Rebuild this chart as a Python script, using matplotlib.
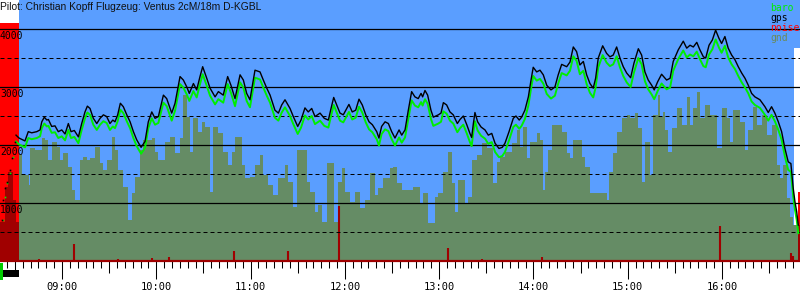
import matplotlib.pyplot as plt
import matplotlib.transforms as mtransforms
from matplotlib.patches import Rectangle
from matplotlib.ticker import MultipleLocator, FuncFormatter

# times in minutes after 08:00, altitudes in ft
t_start, t_end = 20.5, 529.7
t_takeoff, t_landing, t_stop = 32.6, 525.8, 528.4

gps_t = [30.7, 32.6, 36.4, 38.5, 40.7, 43.9, 46.0, 47.1, 48.7, 50.3, 51.3, 53.4, 55.5, 57.6, 59.8,
         61.9, 64.0, 65.7, 67.8, 70.4, 72.5, 74.6, 76.1, 77.8, 79.9, 82.1, 84.2, 86.3, 88.4, 90.5,
         92.3, 93.7, 95.4, 97.1, 99.0, 101.2, 103.3, 105.4, 107.5, 110.3, 112.8, 114.9, 117.1, 119.2, 121.3,
         124.5, 126.6, 129.8, 131.9, 135.1, 137.2, 139.4, 141.0, 143.6, 145.7, 147.8, 149.5, 152.1, 154.2, 157.4,
         159.5, 162.6, 165.4, 167.5, 170.1, 173.3, 175.4, 177.5, 179.6, 182.8, 186.0, 188.1, 190.3, 192.4, 195.5,
         197.7, 199.8, 201.9, 205.1, 207.2, 210.0, 212.1, 214.6, 216.7, 218.9, 221.0, 224.2, 226.9, 229.5, 231.2,
         232.9, 234.8, 236.9, 239.0, 241.2, 242.6, 244.7, 246.9, 249.0, 251.1, 253.3, 255.4, 257.5, 260.3, 261.7,
         263.4, 265.6, 267.7, 269.8, 271.9, 274.5, 276.2, 278.3, 280.4, 282.5, 284.6, 286.7, 288.5, 289.5, 291.0,
         292.7, 294.8, 296.3, 299.5, 301.2, 302.7, 304.8, 306.9, 309.0, 311.6, 313.3, 315.4, 317.6, 319.6, 320.7,
         321.8, 322.8, 324.5, 326.7, 329.2, 331.3, 333.5, 335.6, 338.1, 340.2, 341.9, 344.5, 347.2, 348.9, 351.0,
         352.5, 354.6, 356.8, 358.5, 359.9, 362.1, 364.2, 366.3, 368.5, 371.2, 373.7, 375.8, 378.0, 381.2, 383.3,
         385.4, 387.5, 389.6, 391.8, 393.9, 396.0, 398.1, 399.6, 401.3, 404.1, 406.6, 408.7, 410.8, 413.0, 415.1,
         417.2, 419.4, 421.9, 424.0, 426.8, 428.9, 431.0, 433.1, 435.3, 436.9, 439.1, 441.6, 444.8, 447.0, 449.0,
         452.2, 455.4, 457.6, 459.7, 461.8, 464.0, 466.0, 468.2, 469.7, 471.8, 473.9, 476.0, 478.1, 479.8, 481.9,
         484.0, 486.2, 488.3, 490.4, 492.6, 494.7, 496.8, 498.9, 501.0, 504.2, 507.4, 509.5, 511.6, 513.7, 515.9,
         518.0, 520.1, 522.2, 523.9, 525.4, 526.5, 527.6, 528.6]

gps_alt = [2170, 2120, 2070, 2230, 2210, 2230, 2260, 2400, 2480, 2430, 2440, 2320, 2330, 2230, 2260,
           2190, 2370, 2230, 2250, 2140, 2370, 2570, 2670, 2630, 2460, 2370, 2460, 2520, 2490, 2370,
           2430, 2400, 2520, 2720, 2660, 2520, 2400, 2230, 2090, 1960, 2060, 2400, 2570, 2460, 2490,
           2860, 2800, 2550, 2720, 3180, 3120, 3000, 2890, 3060, 2950, 3180, 3350, 3150, 2980, 2830,
           2920, 2860, 3180, 3030, 2800, 3210, 3120, 2890, 2780, 3290, 3260, 3120, 2980, 2860, 2600,
           2550, 2690, 2780, 2630, 2490, 2320, 2430, 2640, 2570, 2630, 2490, 2550, 2460, 2430, 2630,
           2820, 2690, 2550, 2520, 2630, 2700, 2570, 2600, 2790, 2690, 2520, 2400, 2350, 2230, 2120,
           2320, 2400, 2370, 2230, 2120, 2260, 2170, 2260, 2600, 2920, 2830, 2800, 2890, 2830, 2940,
           2860, 2600, 2480, 2520, 2550, 2730, 2690, 2570, 2520, 2370, 2440, 2500, 2350, 2200, 2130,
           2370, 2560, 2400, 2310, 2260, 2170, 2200, 2030, 1940, 1960, 2030, 2230, 2460, 2500, 2430,
           2480, 2600, 2830, 3120, 3340, 3260, 3290, 3210, 3030, 2950, 3000, 3210, 3390, 3350, 3430,
           3690, 3610, 3380, 3440, 3210, 3060, 2980, 3150, 3500, 3710, 3580, 3520, 3550, 3690, 3500,
           3350, 3240, 3160, 3410, 3660, 3550, 3260, 3120, 3030, 2950, 3090, 3220, 3120, 3150, 3440,
           3640, 3790, 3670, 3720, 3690, 3770, 3640, 3520, 3500, 3720, 3810, 3980, 3840, 3750, 3870,
           3670, 3550, 3470, 3350, 3240, 3150, 3030, 2890, 2830, 2780, 2660, 2560, 2660, 2550, 2400,
           2230, 1940, 1710, 1680, 1250, 1020, 850, 620]

baro_alt = [2060, 2010, 1960, 2120, 2100, 2120, 2150, 2290, 2370, 2320, 2330, 2210, 2220, 2120, 2150,
            2080, 2260, 2120, 2140, 2030, 2260, 2460, 2560, 2520, 2350, 2260, 2350, 2410, 2380, 2260,
            2320, 2290, 2410, 2610, 2550, 2410, 2290, 2120, 1980, 1850, 1950, 2290, 2460, 2350, 2380,
            2730, 2670, 2420, 2590, 3050, 2990, 2870, 2760, 2930, 2820, 3050, 3220, 3020, 2850, 2700,
            2790, 2730, 3050, 2900, 2670, 3080, 2990, 2760, 2650, 3160, 3130, 2990, 2850, 2730, 2470,
            2420, 2560, 2650, 2500, 2360, 2190, 2300, 2510, 2440, 2500, 2360, 2420, 2330, 2300, 2500,
            2690, 2560, 2420, 2390, 2500, 2570, 2440, 2470, 2660, 2560, 2390, 2270, 2220, 2100, 1990,
            2190, 2270, 2240, 2100, 1990, 2130, 2040, 2130, 2450, 2770, 2680, 2650, 2740, 2680, 2790,
            2710, 2450, 2330, 2370, 2400, 2580, 2540, 2420, 2370, 2220, 2290, 2350, 2200, 2050, 1980,
            2220, 2410, 2250, 2160, 2110, 2020, 2050, 1880, 1790, 1810, 1880, 2080, 2310, 2350, 2280,
            2330, 2450, 2680, 2970, 3190, 3110, 3140, 3060, 2880, 2800, 2850, 3060, 3240, 3200, 3280,
            3530, 3450, 3220, 3280, 3050, 2900, 2820, 2990, 3340, 3550, 3420, 3360, 3390, 3530, 3340,
            3190, 3080, 3000, 3250, 3500, 3390, 3100, 2960, 2870, 2790, 2930, 3060, 2960, 2990, 3280,
            3480, 3630, 3510, 3560, 3530, 3610, 3480, 3360, 3340, 3560, 3650, 3820, 3680, 3590, 3710,
            3510, 3390, 3310, 3190, 3080, 2990, 2890, 2750, 2690, 2640, 2520, 2420, 2520, 2410, 2260,
            2090, 1800, 1570, 1540, 1110, 880, 710, 480]

tow_t = [21.6, 22.6, 23.7, 24.8, 26.9, 28.0, 30.1]
tow_gps = [710, 1050, 1260, 1360, 1570, 1780, 2050]
tow_baro_t = [22.3, 23.5, 25.2, 26.9, 28.6]
tow_baro = [710, 1100, 1340, 1520, 1790]

gnd_t = [32.6, 34.5, 38.7, 39.6, 42.8, 47.3, 49.2, 51.1, 53.6, 56.8, 58.7, 60.6, 63.8, 66.4, 68.3,
         71.5, 73.4, 75.9, 77.8, 81.0, 84.2, 86.1, 88.6, 91.8, 93.7, 95.6, 98.8, 102.0, 104.5, 106.5,
         109.6, 111.5, 117.3, 119.2, 121.1, 125.5, 128.7, 131.9, 135.1, 137.0, 139.5, 141.5, 143.4, 146.6, 149.1,
         151.0, 154.2, 156.1, 159.3, 162.5, 165.6, 168.2, 170.1, 174.6, 176.5, 179.6, 182.8, 186.0, 187.9, 191.1,
         194.3, 197.5, 201.9, 203.8, 207.0, 209.5, 215.9, 217.8, 221.0, 222.9, 225.5, 228.6, 233.1, 235.6, 238.2,
         240.1, 243.3, 246.5, 249.6, 252.8, 256.0, 259.2, 261.1, 264.3, 268.7, 270.6, 273.2, 276.4, 283.4, 287.8,
         289.7, 292.9, 297.4, 299.3, 302.5, 305.6, 308.2, 310.1, 312.0, 316.5, 318.4, 320.9, 324.1, 327.3, 330.5,
         334.3, 336.8, 338.7, 341.9, 346.4, 349.6, 351.5, 353.4, 355.9, 357.8, 362.3, 364.2, 366.1, 367.4, 369.3,
         371.8, 378.2, 381.4, 383.3, 385.2, 391.0, 392.8, 396.0, 406.8, 408.1, 410.7, 413.2, 416.4, 419.6, 421.5,
         424.7, 426.6, 429.1, 431.0, 434.2, 436.1, 439.3, 440.6, 442.5, 443.7, 445.7, 448.2, 451.4, 454.6, 457.8,
         459.7, 461.6, 464.1, 466.0, 469.2, 472.4, 476.9, 480.0, 483.2, 485.1, 487.0, 491.5, 494.7, 496.6, 499.8,
         502.3, 505.5, 508.7, 511.9, 515.0, 517.0, 518.8, 521.4, 523.3, 525.2, 528.4]

gnd_alt = [1830, 1480, 1310, 1950, 1910, 2120, 2090, 1740, 2050, 1970, 1740, 1860, 1620, 1220, 1050,
           1740, 1790, 1740, 1780, 1970, 1690, 1570, 1740, 2140, 1910, 1570, 1280, 710, 1170, 1450,
           1910, 2090, 2120, 1880, 1740, 2050, 2140, 1860, 2120, 2860, 2480, 1880, 2470, 2220, 2400,
           2310, 1190, 2310, 2210, 1880, 1660, 1880, 2140, 1660, 1430, 1450, 1660, 1830, 1480, 1310,
           1140, 1430, 1660, 1360, 930, 1910, 1360, 1190, 850, 970, 670, 1690, 670, 1360, 1600,
           1190, 1020, 1190, 910, 1050, 1520, 1140, 1260, 1430, 1600, 1620, 1340, 1220, 1280, 1000,
           1170, 660, 1100, 1170, 1530, 1880, 1340, 850, 1400, 1000, 1100, 1740, 1830, 2030, 1950,
           1340, 1710, 1790, 1880, 2030, 2260, 1970, 2310, 1780, 2050, 2210, 2090, 1220, 1530, 1910,
           2350, 2220, 1860, 1780, 2090, 1790, 1620, 1170, 1050, 1530, 1860, 2220, 2470, 2520, 2470,
           2550, 2290, 1360, 2050, 1480, 2520, 2860, 2480, 2570, 2260, 1880, 2290, 2640, 2350, 2830,
           2350, 2640, 2910, 2470, 2690, 2520, 1950, 2640, 2470, 2050, 2600, 2400, 1910, 2260, 2660,
           2350, 2520, 2170, 2350, 1660, 1430, 1660, 1090, 760, 620, 620]

noise_t = [45.2, 67.6, 95.6, 117.3, 128.1, 169.5, 203.8, 236.3, 305.6, 327.3, 365.5, 478.7, 523.9, 525.2]
noise_lvl = [35, 290, 35, 50, 70, 170, 170, 950, 220, 35, 70, 600, 140, 90]

pre_t = [20.5, 23.7, 25.6, 28.8, 30.7, 32.6]
pre_noise = [670, 1280, 1530, 1050, 670, 670]

hours = ["09:00", "10:00", "11:00", "12:00", "13:00", "14:00", "15:00", "16:00"]

title = "Pilot: Christian Kopff Flugzeug: Ventus 2cM/18m D-KGBL"
legend_items = [("baro", "#00ee00"), ("gps", "black"), ("noise", "#ff0000"), ("gnd", "#6a8a5a")]

BLUE = "#5a9eff"
GND = "#658c65"
RED = "#ff0000"
DARKRED = "#a00000"
GREEN = "#00ee00"

fig = plt.figure(figsize=(8, 3), dpi=100)
ax = fig.add_axes([0, 39 / 300, 1, 261 / 300])
ax.set_xlim(t_start, t_end)
ax.set_ylim(0, 4500)
ax.set_facecolor("white")

# backgrounds
ax.axvspan(t_takeoff, t_end, color=BLUE, lw=0, zorder=0)
ax.fill_between([t_landing, t_end], 0, 3670, color="white", lw=0, zorder=0.5)
ax.fill_between([t_start, t_takeoff], 0, 4100, color=RED, lw=0, zorder=0.5)
ax.fill_between([t_stop, t_end], 0, 1190, color=RED, lw=0, zorder=0.6)
ax.fill_between([t_stop, t_end], 0, 620, color=DARKRED, lw=0, zorder=0.7)
ax.fill_between(pre_t, 0, pre_noise, step="post", color=DARKRED, lw=0, zorder=0.7)

# ground
ax.fill_between(gnd_t, 0, gnd_alt, step="post", color=GND, lw=0, zorder=1)

# noise
ax.vlines(noise_t, 0, noise_lvl, color=DARKRED, lw=1.5, zorder=2)

# grid
for v in [1000, 2000, 3000, 4000]:
    ax.axhline(v, color="black", lw=0.9, zorder=3)
for v in [500, 1500, 2500, 3500]:
    ax.axhline(v, color="black", lw=0.72, ls=(0, (4, 3)), zorder=3)

# traces
ax.plot(gps_t, baro_alt, color=GREEN, lw=1.4, zorder=4)
ax.plot(gps_t, gps_alt, color="black", lw=1.0, zorder=5)
ax.plot(tow_baro_t, tow_baro, ls="none", marker="s", ms=1.2, color=GREEN, mew=0, zorder=4)
ax.plot(tow_t, tow_gps, ls="none", marker="s", ms=1.2, color="black", mew=0, zorder=5)

# y labels inside the plot
for v in [1000, 2000, 3000, 4000]:
    ax.annotate(str(v), xy=(0, v), xycoords=ax.get_yaxis_transform(),
                xytext=(0, -2), textcoords="offset pixels", va="top", ha="left",
                family="DejaVu Sans Mono", fontsize=7, color="black", zorder=6)

# x axis
for s in ["top", "left", "right"]:
    ax.spines[s].set_visible(False)
ax.spines["bottom"].set_color(DARKRED)
ax.spines["bottom"].set_linewidth(1.6)
ax.spines["bottom"].set_zorder(6)
ax.set_yticks([])
ax.xaxis.set_major_locator(MultipleLocator(30))
ax.xaxis.set_minor_locator(MultipleLocator(5))
ax.xaxis.set_major_formatter(FuncFormatter(
    lambda v, p: hours[int(round(v / 60)) - 1] if abs(v % 60) < 0.01 and 1 <= round(v / 60) <= 8 else ""))
ax.tick_params(axis="x", which="major", length=13, width=0.75, color="black", pad=2,
               labelsize=7.5, labelfontfamily="DejaVu Sans Mono")
ax.tick_params(axis="x", which="minor", length=5, width=0.75, color="black")

fig.canvas.draw()
for tk in ax.xaxis.get_major_ticks():
    if abs(tk.get_loc() % 60) > 0.01:
        tk.tick1line.set_markersize(8.6)

# small indicator under the axis
trans = mtransforms.blended_transform_factory(ax.transData, ax.transAxes)
ax.add_patch(Rectangle((t_start, -0.062), t_takeoff - t_start, 0.027, transform=trans,
                       color="black", lw=0, clip_on=False))
ax.add_patch(Rectangle((t_start, -0.073), 1.9, 0.065, transform=trans,
                       color="#00cc00", lw=0, clip_on=False))

fig.text(0.0, 1 - 2 / 300, title, ha="left", va="top", fontsize=7.4,
         family="Liberation Sans", color="#111111")
for i, (name, col) in enumerate(legend_items):
    fig.text(770 / 800, 1 - (3 + 10 * i) / 300, name, ha="left", va="top",
             fontsize=7, family="DejaVu Sans Mono", color=col)

fig.savefig("out.png", dpi=100)
